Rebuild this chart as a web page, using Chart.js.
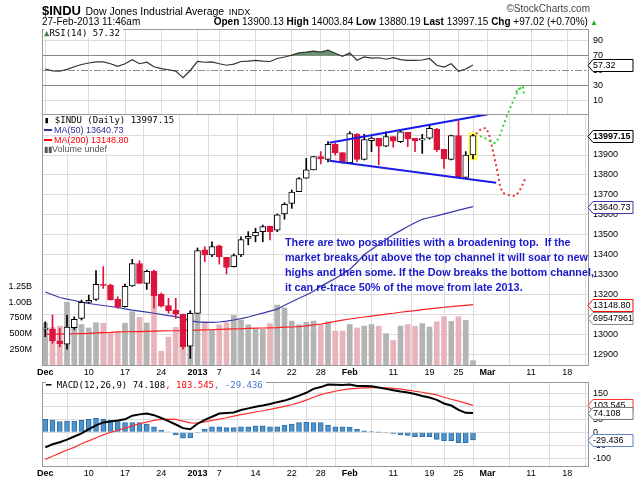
<!DOCTYPE html>
<html>
<head>
<meta charset="utf-8">
<title>$INDU Daily</title>
<script src="https://cdn.jsdelivr.net/npm/chart.js@4.4.1/dist/chart.umd.min.js"></script>
<style>
  html, body { margin: 0; padding: 0; background: #fff; }
  #wrap { position: relative; width: 634px; height: 480px; overflow: hidden;
          font-family: 'Liberation Sans', Arial, sans-serif; color: #000; }
  #wrap canvas { position: absolute; left: 0; top: 0; }
  .t { position: absolute; white-space: nowrap; line-height: 1; }
  .mono { font-family: 'DejaVu Sans Mono', monospace; font-size: 9px; }
  .leg { background: #fff; padding-right: 3px; }
  .note { position: absolute; left: 285px; white-space: pre; line-height: 1;
          font-weight: bold; font-size: 10.8px; color: #1a1acc; }
  .dash { display: inline-block; width: 8px; height: 2px; vertical-align: middle; margin: 0 2px 2px 0; }
</style>
</head>
<body>
<div id="wrap">
  <canvas id="rsiChart" width="634" height="480"></canvas>
  <canvas id="macdChart" width="634" height="480"></canvas>
  <canvas id="priceChart" width="634" height="480"></canvas>

  <div class="t" style="left:42px;top:2px;"><b style="font-size:13px">$INDU</b> <span style="font-size:10.5px">Dow Jones Industrial Average</span> <span style="font-size:9px">INDX</span></div>
  <div class="t" style="right:44px;top:4px;font-size:10px;color:#444;">©StockCharts.com</div>
  <div class="t" style="left:42px;top:17px;font-size:10px;">27-Feb-2013 11:46am</div>
  <div class="t" style="right:36px;top:17px;font-size:10px;"><b>Open</b> 13900.13 <b>High</b> 14003.84 <b>Low</b> 13880.19 <b>Last</b> 13997.15 <b>Chg</b> +97.02 (+0.70%)<span style="color:#2a2;font-size:8px"> ▲</span></div>

  <div class="t mono leg" style="left:44px;top:29px;"><span style="color:#4a7a4a">▲</span>RSI(14) 57.32</div>

  <div class="t mono leg" style="left:44px;top:116px;"><span style="color:#000">▮</span> $INDU (Daily) 13997.15</div>
  <div class="t leg" style="left:44px;top:126px;font-size:9px;color:#2b2b9a;"><span class="dash" style="background:#2b2b9a"></span>MA(50) 13640.73</div>
  <div class="t leg" style="left:44px;top:136px;font-size:9px;color:#f00;"><span class="dash" style="background:#f00"></span>MA(200) 13148.80</div>
  <div class="t leg" style="left:44px;top:145px;font-size:9px;color:#555;"><span style="font-size:8px">▮▮</span>Volume undef</div>

  <div class="t mono leg" style="left:46px;top:381px;"><b>━</b> MACD(12,26,9) 74.108<span style="color:#f00">, 103.545</span><span style="color:#4a74d0">, -29.436</span></div>

  <div class="note" style="top:237px;">There are two possibilities with a broadening top.  If the</div>
  <div class="note" style="top:252px;">market breaks out above the top channel it will soar to new</div>
  <div class="note" style="top:267px;">highs and then some. If the Dow breaks the bottom channel,</div>
  <div class="note" style="top:282px;">it can re-trace 50% of the move from late 2013.</div>
</div>

<script>
// values; index 0 = 30-Nov-2012 ... 59 = 27-Feb-2013
const opens = [13024, 13026, 12966, 12950, 13033, 13079, 13160, 13175, 13250, 13247,
  13176, 13138, 13242, 13355, 13255, 13315, 13200, 13143, 13121, 13101,
  12940, 13104, 13423, 13398, 13444, 13386, 13339, 13398, 13481, 13493,
  13515, 13543, 13523, 13604, 13657, 13716, 13783, 13825, 13892, 13878,
  13954, 13912, 13861, 14004, 13878, 13972, 13984, 13945, 13992, 13967,
  14014, 13984, 13975, 13984, 14029, 13928, 13878, 13998, 13788, 13900.13];
const highs = [13062, 13096, 13029, 13096, 13087, 13171, 13196, 13319, 13339, 13252,
  13188, 13252, 13376, 13369, 13322, 13322, 13207, 13180, 13180, 13101,
  13118, 13433, 13439, 13464, 13448, 13386, 13403, 13489, 13515, 13532,
  13548, 13543, 13604, 13660, 13724, 13786, 13883, 13892, 13917, 13967,
  13959, 13912, 14017, 14008, 14004, 13992, 13984, 14017, 13992, 14026,
  14014, 13984, 14004, 14051, 14034, 13928, 14000, 14072, 13917, 14003.84];
const lows = [12987, 12954, 12937, 12924, 13024, 13071, 13155, 13170, 13230, 13171,
  13130, 13136, 13240, 13255, 13225, 13130, 13136, 13105, 13079, 12924,
  12878, 13104, 13364, 13389, 13352, 13302, 13337, 13389, 13448, 13464,
  13464, 13473, 13515, 13577, 13632, 13716, 13783, 13825, 13855, 13865,
  13900, 13858, 13858, 13866, 13875, 13917, 13850, 13942, 13939, 13962,
  13942, 13917, 13908, 13979, 13917, 13833, 13875, 13783, 13783, 13880.19];
const closes = [13026, 12966, 12952, 13035, 13074, 13160, 13170, 13250, 13245, 13172,
  13136, 13240, 13355, 13255, 13315, 13192, 13140, 13118, 13100, 12937,
  13104, 13420, 13398, 13440, 13389, 13335, 13395, 13475, 13492, 13512,
  13540, 13515, 13600, 13652, 13714, 13782, 13825, 13892, 13880, 13954,
  13910, 13862, 14008, 13878, 13978, 13985, 13944, 13992, 13970, 14016,
  13981, 13972, 13982, 14034, 13927, 13880, 13998, 13786, 13900, 13997.15];
// volume in millions of shares
const volumes = [670, 600, 620, 1000, 660, 645, 590, 675, 665, 520,
  520, 665, 850, 760, 670, 1100, 220, 445, 600, 760,
  790, 820, 690, 560, 640, 675, 790, 715, 640, 580,
  570, 660, 955, 910, 700, 640, 680, 700, 645, 690,
  540, 540, 645, 590, 620, 645, 620, 500, 390, 620,
  645, 620, 660, 605, 690, 770, 695, 770, 710, 70];
const ma50 = [13212, 13198, 13184, 13176, 13169, 13161, 13154, 13149, 13144, 13139,
  13134, 13127, 13121, 13116, 13111, 13105, 13099, 13093, 13088, 13078,
  13067, 13062, 13059, 13059, 13061, 13065, 13071, 13078, 13086, 13096,
  13106, 13116, 13126, 13145, 13163, 13180, 13197, 13215, 13240, 13260,
  13280, 13302, 13325, 13360, 13400, 13425, 13450, 13475, 13500, 13520,
  13541, 13560, 13577, 13586, 13594, 13604, 13613, 13623, 13632, 13640.73];
const ma200 = [12999, 13000, 13000, 13001, 13002, 13003, 13004, 13006, 13008, 13009,
  13011, 13012, 13013, 13013, 13014, 13015, 13016, 13017, 13017, 13018,
  13019, 13020, 13021, 13022, 13024, 13025, 13026, 13027, 13029, 13030,
  13031, 13032, 13033, 13035, 13036, 13038, 13042, 13047, 13051, 13057,
  13064, 13070, 13076, 13081, 13086, 13091, 13096, 13101, 13105, 13110,
  13114, 13118, 13123, 13127, 13131, 13135, 13138, 13142, 13145, 13148.80];
const rsi14 = [52, 49.5, 49, 51.5, 55, 58, 60, 61.5, 61.5, 59,
  55.5, 59, 64.5, 59, 61, 55, 52.5, 51, 49.2, 40.5,
  50, 62, 61, 61.5, 59, 57, 58.5, 62, 62.5, 63.6,
  62.5, 62, 66, 68, 70.5, 73.5, 74.5, 75.8, 74.5, 77,
  73, 69, 73.5, 63.6, 68, 66.5, 67, 65, 67, 64.5,
  63.6, 63.6, 64, 66, 57, 54.5, 59, 48.8, 52, 57.32];
const macdLine = [-58, -46, -38, -28, -16, -4, 12, 27, 38, 42,
  45, 50, 64, 69, 72, 66, 55, 43, 30, 16,
  12, 33, 48, 60, 72, 74, 76, 86, 92, 98,
  103, 109, 116, 122, 131, 141, 152, 167, 174, 184,
  183, 182, 184, 178, 178, 177, 172, 167, 162, 157,
  153, 147, 140, 134, 125, 111, 103, 86, 75, 74.108];
const signalLine = [-104, -92, -80, -68, -58, -44, -33, -21, -10, 0,
  8, 16, 25, 33, 39, 46, 50, 51, 50, 43,
  36, 35, 40, 46, 51, 56, 62, 68, 73, 78,
  83, 88, 94, 100, 106, 114, 124, 135, 145, 152,
  158, 163, 167, 169, 171, 172, 172, 171, 169, 166,
  162, 158, 154, 149, 144, 135, 127, 120, 112, 103.545];
const macdHist = [50, 47, 41, 43, 43, 46, 50, 54, 50, 46,
  41, 37, 37, 37, 32, 21, 9, 2, -10, -23,
  -21, -2, 11, 21, 21, 18, 18, 21, 21, 25,
  25, 21, 21, 28, 32, 37, 38, 37, 37, 28,
  21.5, 21.5, 20, 11, 6, 3, 1, -2, -4, -10,
  -12, -17, -17, -17, -27, -32, -32, -40, -40, -29.436];

const tickDays = [0, 6, 11, 16, 21, 24, 29, 34, 38, 42, 48, 53, 57, 61, 67, 72];
const tickLabels = ['Dec', '10', '17', '24', '2013', '7', '14', '22', '28', 'Feb', '11', '19', '25', 'Mar', '11', '18'];
const boldTicks = ['Dec', '2013', 'Feb', 'Mar'];
const priceTicks = [12900, 13000, 13100, 13200, 13300, 13400, 13500, 13600, 13700, 13800, 13900, 14000];
const volTicks = [250, 500, 750, 1000, 1250];
const volTickLabels = ['250M', '500M', '750M', '1.00B', '1.25B'];
const rsiTicks = [10, 30, 50, 70, 90];
const macdTicks = [-100, -50, 0, 50, 100, 150];

// hand-drawn annotations (x = trading-day index, y = price)
const channelTopX = [39.2, 61.1];
const channelTopY = [13962, 14105];
const channelBotX = [39.2, 62.2];
const channelBotY = [13871, 13761];
const upPathX = [59.96, 60.65, 61.34, 62.03, 62.58, 63.13, 63.68, 64.23, 64.79, 65.34, 65.89];
const upPathY = [13995, 13985, 13970, 13960, 13985, 14041, 14096, 14146, 14191, 14232, 14247];
const upHeadX = [64.9, 65.9, 66.05];
const upHeadY = [14217, 14247, 14200];
const downPathX = [59.41, 60.1, 60.79, 61.2, 61.6, 62.03, 62.44, 62.72, 63.13, 63.96, 64.79, 65.34, 65.75, 66.16];
const downPathY = [14005, 14031, 14036, 14005, 13945, 13875, 13804, 13744, 13709, 13699, 13694, 13714, 13744, 13779];
const lastBarHighlight = [13875, 14012];

const X_MIN = -0.45, X_MAX = 75.0;
const GRID = '#dcdcdc';
const RED = '#dc143c';

const days = closes.map((c, i) => i);
const isDown = closes.map((c, i) => i > 0 && c < closes[i - 1]);
const series = ys => ys.map((y, i) => ({ x: i, y: y }));
const pts = (xs, ys) => xs.map((x, i) => ({ x: x, y: ys[i] }));

Chart.defaults.font.family = "'Liberation Sans', Arial, sans-serif";
Chart.defaults.font.size = 9;
Chart.defaults.color = '#000';
Chart.defaults.animation = false;
Chart.defaults.responsive = false;
Chart.defaults.plugins.legend.display = false;
Chart.defaults.plugins.tooltip.enabled = false;

function xAxis(showLabels) {
    return {
        type: 'linear', min: X_MIN, max: X_MAX, offset: false,
        afterBuildTicks: s => { s.ticks = tickDays.map(v => ({ value: v })); },
        afterFit: s => { s.height = showLabels ? 14 : 0; },
        grid: { color: GRID, drawTicks: false },
        border: { display: false },
        ticks: {
            display: showLabels, autoSkip: false, maxRotation: 0, padding: 2, color: '#000',
            callback: (v, i) => tickLabels[i],
            font: ctx => ({ size: 9, weight: boldTicks.includes(tickLabels[ctx.index]) ? 'bold' : 'normal' })
        }
    };
}

function rightAxis(min, max, ticks, gridColor) {
    return {
        type: 'linear', position: 'right', min: min, max: max,
        afterFit: s => { s.width = 45; },
        afterBuildTicks: s => { s.ticks = ticks.map(v => ({ value: v })); },
        grid: { color: gridColor || GRID, drawTicks: false },
        border: { display: false },
        ticks: { padding: 4, color: '#000', font: { size: 9 }, callback: v => String(v) }
    };
}

const framePlugin = {
    id: 'frame',
    afterDatasetsDraw(chart) {
        const { ctx, chartArea: a } = chart;
        ctx.save();
        ctx.strokeStyle = '#9a9a9a';
        ctx.lineWidth = 1;
        ctx.strokeRect(Math.round(a.left) + 0.5, Math.round(a.top) + 0.5,
            Math.round(a.right - a.left) - 1, Math.round(a.bottom - a.top));
        ctx.restore();
    }
};

// value tags on the right edge
function tagPlugin(items) {
    return {
        id: 'tags',
        afterDraw(chart) {
            const ctx = chart.ctx;
            const x0 = chart.chartArea.right - 1, x1 = 633;
            ctx.save();
            items.forEach(t => {
                const y = Math.round(t.px != null ? t.px : chart.scales[t.axis].getPixelForValue(t.value)) + 0.5;
                ctx.beginPath();
                ctx.moveTo(x0, y);
                ctx.lineTo(x0 + 5, y - 6);
                ctx.lineTo(x1, y - 6);
                ctx.lineTo(x1, y + 6);
                ctx.lineTo(x0 + 5, y + 6);
                ctx.closePath();
                ctx.fillStyle = '#fff';
                ctx.fill();
                ctx.strokeStyle = t.color;
                ctx.lineWidth = 1;
                ctx.stroke();
                ctx.fillStyle = '#000';
                ctx.font = (t.bold ? 'bold ' : '') + "9px 'Liberation Sans', Arial";
                ctx.textBaseline = 'middle';
                ctx.fillText(t.text, x0 + 5, y + 0.5);
            });
            ctx.restore();
        }
    };
}

// ---- RSI panel ----
new Chart(document.getElementById('rsiChart'), {
    type: 'line',
    data: {
        datasets: [{
            data: series(rsi14),
            borderColor: '#333', borderWidth: 1.2, pointRadius: 0,
            fill: { target: { value: 70 }, above: '#6a946e', below: 'rgba(0,0,0,0)' }
        }, {
            data: [{ x: X_MIN, y: 50 }, { x: X_MAX, y: 50 }],
            borderColor: '#8a8a8a', borderWidth: 1, borderDash: [7, 2, 2, 2], pointRadius: 0
        }]
    },
    options: {
        layout: { padding: { top: 29, left: 42, right: 0, bottom: 366 } },
        scales: {
            x: xAxis(false),
            y: rightAxis(-8, 105.3, rsiTicks, ctx => (ctx.tick && (ctx.tick.value === 70 || ctx.tick.value === 30)) ? '#8a8a8a' : (ctx.tick && ctx.tick.value === 50 ? 'rgba(0,0,0,0)' : GRID))
        }
    },
    plugins: [framePlugin, tagPlugin([{ axis: 'y', value: rsi14[59], text: '57.32', color: '#000' }])]
});

// ---- MACD panel ----
new Chart(document.getElementById('macdChart'), {
    type: 'line',
    data: {
        datasets: [{
            type: 'bar', data: series(macdHist), grouped: false, barThickness: 5,
            backgroundColor: '#4f93cb', borderColor: '#2f6ea6', borderWidth: 1, order: 3
        }, {
            data: series(signalLine), borderColor: '#ff3030', borderWidth: 1.2, pointRadius: 0, order: 2
        }, {
            data: series(macdLine), borderColor: '#000', borderWidth: 2, pointRadius: 0, order: 1
        }]
    },
    options: {
        layout: { padding: { top: 382, left: 42, right: 0, bottom: 0 } },
        scales: { x: xAxis(true), y: rightAxis(-129.6, 193.5, macdTicks) }
    },
    plugins: [framePlugin, tagPlugin([
        { axis: 'y', value: signalLine[59], text: '103.545', color: '#f33' },
        { axis: 'y', value: macdLine[59], text: '74.108', color: '#777' },
        { axis: 'y', value: macdHist[59], text: '-29.436', color: '#5b84c4' }
    ])]
});

// ---- price + volume panel ----
const dotted = { borderWidth: 2, borderDash: [2, 3], pointRadius: 0, clip: false, yAxisID: 'price', order: 1 };
new Chart(document.getElementById('priceChart'), {
    type: 'line',
    data: {
        datasets: [{
            type: 'bar', yAxisID: 'vol', data: series(volumes), grouped: false, barThickness: 5,
            backgroundColor: isDown.map(d => d ? '#e8b4bc' : '#b4b4b4'), order: 10
        }, {
            yAxisID: 'price', data: series(ma200), borderColor: '#ff2020', borderWidth: 1.2, pointRadius: 0, order: 8
        }, {
            yAxisID: 'price', data: series(ma50), borderColor: '#3a3aa8', borderWidth: 1.2, pointRadius: 0, order: 7
        }, {
            type: 'bar', yAxisID: 'price', data: [{ x: 59, y: lastBarHighlight }], grouped: false,
            barThickness: 9, backgroundColor: '#ffff66', order: 6
        }, {
            type: 'bar', yAxisID: 'price', data: days.map(i => ({ x: i, y: [lows[i], highs[i]] })),
            grouped: false, barThickness: 1, backgroundColor: isDown.map(d => d ? RED : '#000'), order: 5
        }, {
            type: 'bar', yAxisID: 'price', data: days.map(i => ({ x: i, y: [opens[i], closes[i]] })),
            grouped: false, barThickness: 6, minBarLength: 1, borderSkipped: false, borderWidth: 1,
            backgroundColor: isDown.map(d => d ? RED : '#fff'),
            borderColor: isDown.map(d => d ? RED : '#000'), order: 4
        }, {
            yAxisID: 'price', data: pts(channelTopX, channelTopY), borderColor: '#1c1ce8', borderWidth: 2, pointRadius: 0, order: 2
        }, {
            yAxisID: 'price', data: pts(channelBotX, channelBotY), borderColor: '#1c1ce8', borderWidth: 2, pointRadius: 0, order: 2
        },
        Object.assign({ data: pts(upPathX, upPathY), borderColor: '#3ad03a' }, dotted),
        Object.assign({ data: pts(upHeadX, upHeadY), borderColor: '#3ad03a' }, dotted),
        Object.assign({ data: pts(downPathX, downPathY), borderColor: '#ee3030' }, dotted)]
    },
    options: {
        layout: { padding: { top: 114, left: 0, right: 0, bottom: 101 } },
        scales: {
            x: xAxis(true),
            vol: {
                type: 'linear', position: 'left', min: 0, max: 4000,
                afterFit: s => { s.width = 42; },
                afterBuildTicks: s => { s.ticks = volTicks.map(v => ({ value: v })); },
                grid: { display: false }, border: { display: false },
                ticks: { padding: 2, color: '#000', font: { size: 9 }, callback: (v, i) => volTickLabels[i] }
            },
            price: rightAxis(12845, 14106, priceTicks)
        }
    },
    plugins: [framePlugin, tagPlugin([
        { axis: 'price', value: closes[59], text: '13997.15', color: '#000', bold: true },
        { axis: 'price', value: ma50[59], text: '13640.73', color: '#3a3aa8' },
        { axis: 'price', value: ma200[59], text: '13148.80', color: '#f00' },
        { px: 318, text: '69547961', color: '#888' }
    ])]
});
</script>
</body>
</html>
